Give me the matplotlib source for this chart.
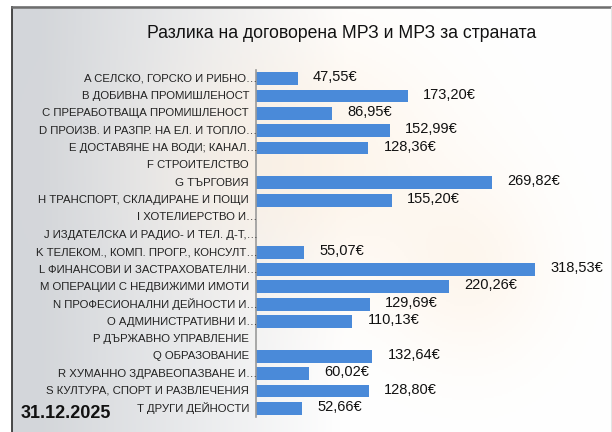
import numpy as np
import matplotlib
matplotlib.use("Agg")
import matplotlib.pyplot as plt
from matplotlib.transforms import blended_transform_factory, offset_copy

plt.rcParams['font.family'] = ['Liberation Sans Narrow', 'Liberation Sans', 'DejaVu Sans']

title = 'Разлика на договорена МРЗ и МРЗ за страната'
date_label = '31.12.2025'

sectors = [
    'A СЕЛСКО, ГОРСКО И РИБНО…',
    'B ДОБИВНА ПРОМИШЛЕНОСТ',
    'C ПРЕРАБОТВАЩА ПРОМИШЛЕНОСТ',
    'D ПРОИЗВ. И РАЗПР. НА ЕЛ. И ТОПЛО…',
    'E ДОСТАВЯНЕ НА ВОДИ; КАНАЛ…',
    'F СТРОИТЕЛСТВО',
    'G ТЪРГОВИЯ',
    'H ТРАНСПОРТ, СКЛАДИРАНЕ И ПОЩИ',
    'I ХОТЕЛИЕРСТВО И…',
    'J ИЗДАТЕЛСКА И РАДИО- И ТЕЛ. Д-Т,…',
    'K ТЕЛЕКОМ., КОМП. ПРОГР., КОНСУЛТ…',
    'L ФИНАНСОВИ И ЗАСТРАХОВАТЕЛНИ…',
    'M ОПЕРАЦИИ С НЕДВИЖИМИ ИМОТИ',
    'N ПРОФЕСИОНАЛНИ ДЕЙНОСТИ И…',
    'O АДМИНИСТРАТИВНИ И…',
    'P ДЪРЖАВНО УПРАВЛЕНИЕ',
    'Q ОБРАЗОВАНИЕ',
    'R ХУМАННО ЗДРАВЕОПАЗВАНЕ И…',
    'S КУЛТУРА, СПОРТ И РАЗВЛЕЧЕНИЯ',
    'T ДРУГИ ДЕЙНОСТИ',
]
# None = no value published for the sector
diff_eur = [47.55, 173.20, 86.95, 152.99, 128.36, None, 269.82, 155.20, None, None,
            55.07, 318.53, 220.26, 129.69, 110.13, None, 132.64, 60.02, 128.80, 52.66]

fig = plt.figure(figsize=(6.12, 4.32), dpi=100)

# soft backdrop: grey on the left fading to white, warm tint in the middle
bg = fig.add_axes([0, 0, 1, 1], zorder=-10)
h, w = 216, 306
yy, xx = np.mgrid[0:h, 0:w]
t = np.clip((xx - 20) / (w * 0.5), 0, 1)
grey = np.array([0.83, 0.84, 0.855])
white = np.array([1.0, 1.0, 1.0])
img = grey[None, None, :] * (1 - t[..., None]) + white[None, None, :] * t[..., None]
warm = np.exp(-(((xx - 150) / 70.0) ** 2 + ((yy - 80) / 60.0) ** 2))
warm += 0.7 * np.exp(-(((xx - 235) / 40.0) ** 2 + ((yy - 135) / 45.0) ** 2))
peach = np.array([0.99, 0.93, 0.86])
img = img * (1 - 0.6 * warm[..., None]) + peach[None, None, :] * 0.6 * warm[..., None]
img[:, :6] = [1, 1, 1]
img[:3, :] = [1, 1, 1]
bg.imshow(np.clip(img, 0, 1), aspect='auto', extent=[0, 1, 0, 1], origin='upper')
bg.plot([12 / 612, 12 / 612], [0, 1 - 6.5 / 432], color='#3a3a3a', lw=1.3)
bg.plot([12 / 612, 1], [1 - 6.5 / 432, 1 - 6.5 / 432], color='#6e6e6e', lw=1.8)
bg.plot([611 / 612, 611 / 612], [0, 1 - 6.5 / 432], color='#e4e4e4', lw=0.8)
bg.set_xlim(0, 1)
bg.set_ylim(0, 1)
bg.axis('off')

ax = fig.add_axes([256 / 612, 15 / 432, 350 / 612, 347 / 432])
ax.patch.set_alpha(0)

ypos = np.arange(len(sectors))
vals = np.array([np.nan if v is None else v for v in diff_eur])
ax.barh(ypos, np.nan_to_num(vals), height=0.74, color='#4a8ad9', zorder=2)

ax.set_xlim(0, 350 / 0.876)
ax.set_ylim(len(sectors) - 0.5, -0.5)

for y, v in zip(ypos, vals):
    if np.isnan(v):
        continue
    ax.annotate(f'{v:.2f}€'.replace('.', ','), (v, y), xytext=(11, 1),
                textcoords='offset points', ha='left', va='center',
                fontsize=10.5, color='#111111')

# sector names, truncated ones hang a bit further right
trans = blended_transform_factory(ax.transAxes, ax.transData)
for y, name in zip(ypos, sectors):
    dx = 1 if name.endswith('…') else -5
    ax.text(0, y, name, transform=offset_copy(trans, fig=fig, x=dx, y=0, units='points'),
            ha='right', va='center', fontsize=8.2, color='#222222')

ax.set_xticks([])
ax.set_yticks([])
for side in ['top', 'right', 'bottom']:
    ax.spines[side].set_visible(False)
ax.spines['left'].set_color('#9a9a9a')
ax.spines['left'].set_linewidth(1.2)

fig.text(342 / 612, 1 - 33 / 432, title, ha='center', va='center', fontsize=12.7, color='#111111')
fig.text(21 / 612, 1 - 413 / 432, date_label, ha='left', va='center', fontsize=13,
         fontweight='bold', color='#111111')

fig.savefig('out.png', dpi=100)
